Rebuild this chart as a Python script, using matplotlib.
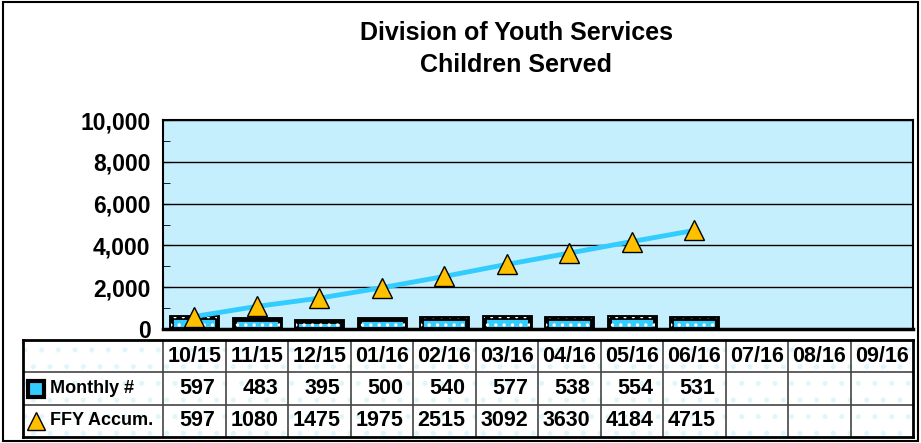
import matplotlib
matplotlib.use("Agg")
import matplotlib.pyplot as plt
from matplotlib.patches import Rectangle
import numpy as np

plt.rcParams["font.family"] = ["Liberation Sans", "DejaVu Sans"]
plt.rcParams["font.weight"] = "bold"
plt.rcParams["hatch.linewidth"] = 1.2

months = ["10/15", "11/15", "12/15", "01/16", "02/16", "03/16",
          "04/16", "05/16", "06/16", "07/16", "08/16", "09/16"]
monthly = [597, 483, 395, 500, 540, 577, 538, 554, 531]
accum = [597, 1080, 1475, 1975, 2515, 3092, 3630, 4184, 4715]
row_labels = ["Monthly #", "FFY Accum."]
yticks = [0, 2000, 4000, 6000, 8000, 10000]

W, H = 921, 443
fig = plt.figure(figsize=(W / 100, H / 100), dpi=100)


def px(x0, y0, x1, y1):
    return [x0 / W, 1 - y1 / H, (x1 - x0) / W, (y1 - y0) / H]


CYAN = "#33CCFF"
BG = "#C6EFFD"
GOLD = "#FFC000"

# outer frame
fig.add_artist(Rectangle((0.003, 0.004), 0.994, 0.992, transform=fig.transFigure,
                         fill=False, edgecolor="black", lw=1.5))

fig.text(516 / W, 1 - 49 / H, "Division of Youth Services\nChildren Served",
         ha="center", va="center", fontsize=18, fontweight="bold", linespacing=1.38)

ax = fig.add_axes(px(163, 120, 913, 329))
ax.set_facecolor(BG)
x = np.arange(len(monthly))
ax.bar(x, monthly, width=0.74, color=CYAN, edgecolor="black", lw=3.5, zorder=2)
ax.bar(x, monthly, width=0.74, facecolor="none", edgecolor="white", lw=0,
       hatch="..", zorder=2.1)
ax.plot(x, accum, color=CYAN, lw=3.5, zorder=3)
ax.plot(x, accum, ls="none", marker="^", ms=14, mfc=GOLD, mec="black", mew=1, zorder=4)
ax.set_xlim(-0.5, len(months) - 0.5)
ax.set_ylim(0, 10000)
ax.set_yticks(yticks)
ax.set_yticklabels([f"{v:,}" for v in yticks], fontsize=16.5, fontweight="bold")
ax.set_yticks(np.arange(1000, 10000, 2000), minor=True)
ax.tick_params(axis="y", which="both", direction="in", length=5, pad=9)
ax.set_xticks([])
ax.grid(axis="y", color="black", lw=1, zorder=1)
ax.set_axisbelow(True)
for s in ax.spines.values():
    s.set_linewidth(1.5)
ax.spines["bottom"].set_linewidth(2.5)

# data table
tx0 = -0.5 - (163 - 23) / 62.5
axt = fig.add_axes(px(23, 340, 913, 437))
axt.set_xlim(tx0, len(months) - 0.5)
axt.set_ylim(3, 0)
axt.set_xticks([])
axt.set_yticks([])
axt.add_patch(Rectangle((tx0, 0), len(months) - 0.5 - tx0, 3, facecolor="none",
                        edgecolor="#E2F5FC", lw=0, hatch=".", zorder=0))
for s in axt.spines.values():
    s.set_linewidth(2)
for yy in (1, 2):
    axt.axhline(yy, color="#444444", lw=1.2)
for k in range(len(months)):
    axt.axvline(k - 0.5, color="#444444", lw=1.2)

for i, m in enumerate(months):
    axt.text(i, 0.5, m, ha="center", va="center", fontsize=15.5, fontweight="bold")
for r, vals in enumerate([monthly, accum]):
    for i, v in enumerate(vals):
        axt.text(i + 0.34, r + 1.5, str(v), ha="right", va="center",
                 fontsize=15.5, fontweight="bold")
    axt.text(tx0 + 27 / 62.5, r + 1.5, row_labels[r], ha="left", va="center",
             fontsize=13, fontweight="bold")

ix = tx0 + 13 / 62.5
axt.plot([ix], [1.5], marker="s", ms=11, mfc=CYAN, mec="black", mew=3, clip_on=False)
axt.plot([ix], [2.5], marker="^", ms=13, mfc=GOLD, mec="black", mew=1, clip_on=False)

fig.savefig("out.png", dpi=100)
